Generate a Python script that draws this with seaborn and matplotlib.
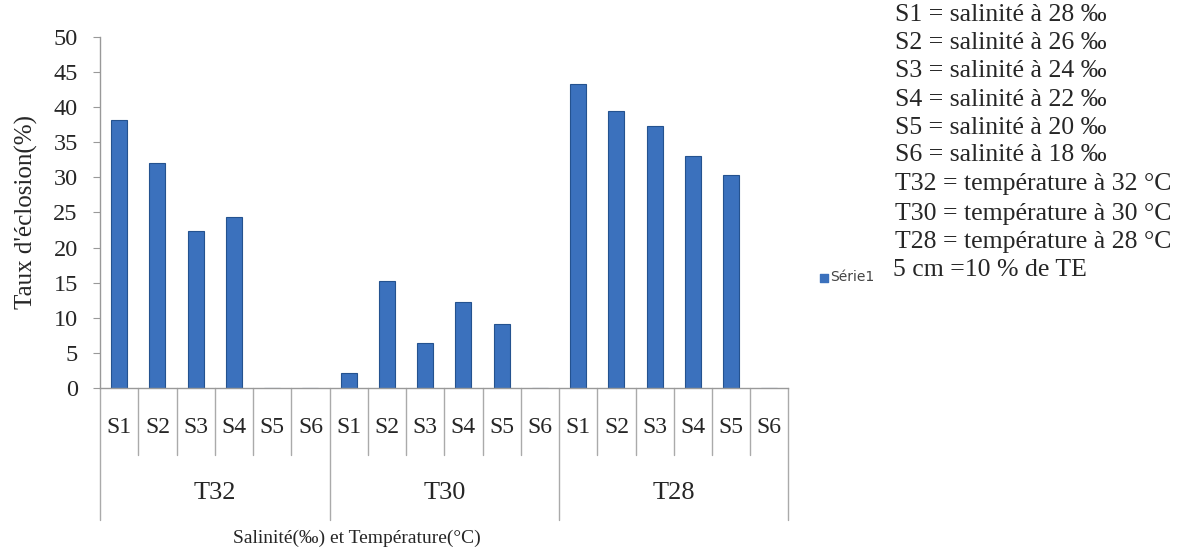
import numpy as np
import pandas as pd
import matplotlib
matplotlib.use("Agg")
import matplotlib.pyplot as plt
import matplotlib.transforms as mtransforms
import seaborn as sns

# data
temperatures = ["T32", "T30", "T28"]
salinities = ["S1", "S2", "S3", "S4", "S5", "S6"]
t32 = [38.2, 32.0, 22.4, 24.4, 0, 0]
t30 = [2.1, 15.3, 6.4, 12.3, 9.1, 0]
t28 = [43.3, 39.4, 37.3, 33.0, 30.3, 0]

notes = [
    "S1 = salinité à 28 ‰",
    "S2 = salinité à 26 ‰",
    "S3 = salinité à 24 ‰",
    "S4 = salinité à 22 ‰",
    "S5 = salinité à 20 ‰",
    "S6 = salinité à 18 ‰",
    "T32 = température à 32 °C",
    "T30 = température à 30 °C",
    "T28 = température à 28 °C",
    "5 cm =10 % de TE",
]

df = pd.DataFrame({
    "temp": np.repeat(temperatures, len(salinities)),
    "sal": salinities * len(temperatures),
    "taux": t32 + t30 + t28,
})
df["key"] = df["temp"] + "-" + df["sal"]

sns.set_style("white")
plt.rcParams["font.family"] = ["Liberation Serif", "DejaVu Serif"]

fig = plt.figure(figsize=(11.85, 5.51), dpi=100)
ax = fig.add_axes([0.0844, 0.296, 0.581, 0.637])

sns.barplot(data=df, x="key", y="taux", order=list(df["key"]), color="#3b71bd",
            width=0.42, edgecolor="#24528f", linewidth=0.8, saturation=1, ax=ax)

ax.set_ylim(0, 50)
ax.set_yticks(range(0, 51, 5))
ax.tick_params(axis="y", labelsize=17.5, length=5, color="#999999", direction="out",
               left=True, pad=11)
ax.tick_params(axis="x", length=0, labelsize=17, pad=21)
ax.set_xticklabels(df["sal"])
ax.set_xlim(-0.5, len(df) - 0.5)

for side in ["top", "right"]:
    ax.spines[side].set_visible(False)
for side in ["left", "bottom"]:
    ax.spines[side].set_color("#999999")
    ax.spines[side].set_linewidth(1)

ax.set_ylabel("Taux d'éclosion(%)", fontsize=18)
ax.yaxis.set_label_coords(-0.09, 0.5)
ax.set_xlabel("")

# category separators below the axis
trans = mtransforms.blended_transform_factory(ax.transData, ax.transAxes)
n = len(salinities)
for i in range(len(df) + 1):
    xpos = i - 0.5
    bottom = -0.375 if i % n == 0 else -0.19
    ax.plot([xpos, xpos], [0, bottom], color="#aaaaaa", lw=1, transform=trans, clip_on=False)

for j, t in enumerate(temperatures):
    ax.text(j * n + (n - 1) / 2, -0.3, t, transform=trans, ha="center", va="center", fontsize=19)

ax.text(0.373, -0.43, "Salinité(‰) et Température(°C)", transform=ax.transAxes,
        ha="center", va="center", fontsize=14)

# legend
ax.scatter([], [], marker="s", color="#3b71bd", s=34, label="Série1")
leg = ax.legend(loc="center left", bbox_to_anchor=(1.035, 0.315), frameon=False,
                handletextpad=0.05, handlelength=0.8, borderaxespad=0,
                prop={"family": "DejaVu Sans", "size": 10})
for txt in leg.get_texts():
    txt.set_color("#444444")

# notes on the right
note_y = [15, 43, 71, 100, 128, 155, 184, 214, 242, 270]
note_x = [895] * 9 + [893]
for s, xx, yy in zip(notes, note_x, note_y):
    fig.text(xx / 1185, 1 - yy / 551, s, ha="left", va="center", fontsize=18.5)

fig.savefig("out.png", dpi=100)
